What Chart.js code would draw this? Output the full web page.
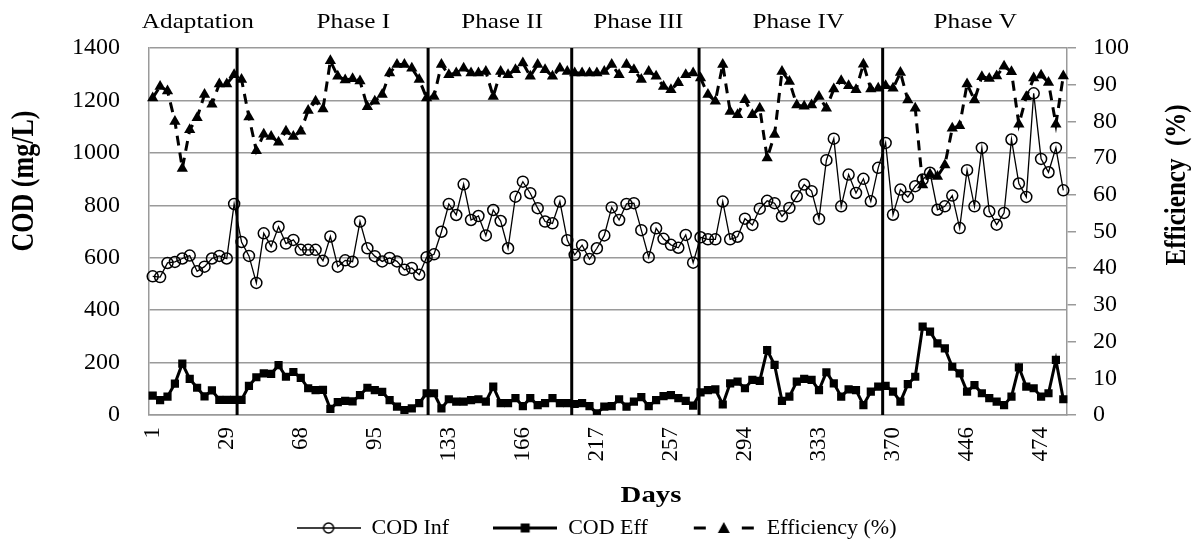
<!DOCTYPE html>
<html>
<head>
<meta charset="utf-8">
<script src="https://cdn.jsdelivr.net/npm/chart.js@4.4.1/dist/chart.umd.min.js"></script>
<style>
  html, body { margin: 0; padding: 0; background: #fff; }
  #wrap { position: relative; width: 1193px; height: 549px; }
</style>
</head>
<body>
<div id="wrap"><canvas id="mainChart"></canvas></div>
<script>
// ============================
// Data (one entry per sample)
// ============================
const tickDays = ["1", "29", "68", "95", "133", "166", "217", "257", "294", "333", "370", "446", "474"];

const codInf = [
  529, 526, 580, 584, 597, 608, 548, 566, 597, 607,
  597, 805, 660, 607, 504, 693, 643, 718, 654, 668,
  630, 630, 630, 588, 681, 566, 590, 585, 738, 636,
  606, 586, 599, 586, 554, 561, 535, 602, 613, 699,
  805, 763, 880, 744, 759, 685, 782, 740, 636, 833,
  890, 846, 789, 738, 731, 814, 667, 611, 648, 595,
  636, 685, 792, 744, 805, 808, 705, 602, 712, 672,
  649, 638, 687, 581, 678, 670, 670, 814, 670, 680,
  749, 725, 787, 817, 808, 758, 790, 834, 879, 854,
  748, 972, 1054, 796, 917, 847, 901, 815, 943, 1038,
  764, 860, 832, 873, 898, 924, 783, 796, 837, 713,
  934, 796, 1019, 777, 726, 771, 1051, 883, 832, 1227,
  977, 926, 1019, 857
];

const codEff = [
  74, 57, 70, 120, 196, 138, 104, 71, 94, 58,
  58, 58, 58, 111, 144, 159, 157, 190, 146, 164,
  142, 102, 95, 96, 23, 49, 54, 52, 76, 104,
  95, 88, 57, 32, 19, 25, 45, 83, 83, 25,
  60, 51, 51, 57, 60, 51, 108, 45, 45, 64,
  34, 64, 38, 45, 64, 45, 45, 42, 45, 34,
  6, 32, 34, 60, 32, 51, 68, 34, 57, 72,
  76, 64, 54, 36, 86, 95, 98, 40, 121, 127,
  102, 134, 130, 248, 191, 54, 70, 127, 138, 134,
  95, 163, 121, 70, 98, 95, 38, 89, 108, 111,
  89, 51, 118, 146, 337, 318, 273, 254, 184, 159,
  89, 114, 83, 64, 51, 38, 70, 182, 108, 102,
  70, 83, 210, 60
];

const efficiency = [
  86.4, 89.5, 88.3, 80, 67.2, 77.7, 81, 87.3, 84.7, 90.2,
  90.2, 92.7, 91.4, 81.2, 72, 76.5, 75.9, 74.3, 77.3, 75.9,
  77.3, 83, 85.5, 83.4, 96.5, 92.3, 91.3, 91.6, 91, 84,
  85.5, 87.3, 93.2, 95.5, 95.5, 94.5, 91.4, 86.4, 86.8, 95.5,
  92.7, 93.2, 94.5, 93.2, 93.2, 93.6, 86.8, 93.6, 92.7, 94.1,
  95.9, 92.3, 95.5, 94.1, 92.3, 94.5, 93.6, 93.2, 93.2, 93.2,
  93.2, 93.6, 95.5, 92.7, 95.5, 94.1, 91.4, 93.6, 92.3, 89.5,
  88.6, 90.5, 92.7, 93.2, 91.8, 87.3, 85.5, 95.5, 82.7, 81.8,
  85.9, 81.8, 83.6, 70, 76.4, 93.6, 90.9, 84.5, 84.1, 84.5,
  86.8, 83.6, 88.8, 91.1, 89.7, 88.6, 95.6, 88.8, 89, 89.7,
  89, 93.3, 85.8, 83.6, 62.7, 65.6, 65, 68.1, 78.1, 78.8,
  90.2, 85.8, 92.2, 91.7, 92.4, 95, 93.5, 79.2, 86.7, 91.8,
  92.6, 90.6, 79.2, 92.4
];

// phases, in sample-index units
const phaseNames = ["Adaptation", "Phase I", "Phase II", "Phase III", "Phase IV", "Phase V"];
const phaseBounds = [11.4, 37.2, 56.6, 73.8, 98.6];
const phaseLabelAt = [6.1, 27.1, 47.2, 65.6, 87.2, 111.1];

// day printed on every 10th sample
const labels = codInf.map((v, i) => (i % 10 === 0 ? tickDays[i / 10] : ""));

const FONT = "'Liberation Serif', 'Times New Roman', serif";
const GRID = "#9a9a9a";

// ============================
// Legend icons (line + marker)
// ============================
function legendIcon(kind) {
  const c = document.createElement("canvas");
  c.width = 64;
  c.height = 16;
  const g = c.getContext("2d");
  const x0 = 0, x1 = 64, cx = 32, cy = 8;
  g.strokeStyle = "#000";
  g.fillStyle = "#000";

  if (kind === "inf") {
    g.lineWidth = 1.4;
    g.beginPath(); g.moveTo(x0, cy); g.lineTo(x1, cy); g.stroke();
    g.lineWidth = 1.5;
    g.beginPath(); g.arc(cx, cy, 5, 0, Math.PI * 2); g.stroke();
  } else if (kind === "eff") {
    g.lineWidth = 3;
    g.beginPath(); g.moveTo(x0, cy); g.lineTo(x1, cy); g.stroke();
    g.fillRect(cx - 4.5, cy - 4.5, 9, 9);
  } else {
    g.lineWidth = 3;
    g.beginPath(); g.moveTo(x0 + 2, cy); g.lineTo(x0 + 14, cy); g.stroke();
    g.beginPath(); g.moveTo(x1 - 14, cy); g.lineTo(x1 - 2, cy); g.stroke();
    g.beginPath();
    g.moveTo(cx, cy - 6); g.lineTo(cx + 6, cy + 5); g.lineTo(cx - 6, cy + 5);
    g.closePath(); g.fill();
  }
  return c;
}
const legendIcons = [legendIcon("inf"), legendIcon("eff"), legendIcon("pct")];

// ============================
// Phase lines + free texts
// ============================
function stretchedText(ctx, text, x, y, rotate) {
  ctx.save();
  ctx.translate(x, y);
  ctx.scale(1.2, 1);
  if (rotate) ctx.rotate(rotate);
  ctx.fillText(text, 0, 0);
  ctx.restore();
}

const phasePlugin = {
  id: "phases",
  afterDatasetsDraw(chart) {
    const { ctx, chartArea, scales } = chart;
    const xs = scales.x;

    ctx.save();
    ctx.strokeStyle = "#000";
    ctx.lineWidth = 3;
    phaseBounds.forEach(b => {
      const px = xs.getPixelForValue(b);
      ctx.beginPath();
      ctx.moveTo(px, chartArea.top);
      ctx.lineTo(px, chartArea.bottom);
      ctx.stroke();
    });

    ctx.fillStyle = "#000";
    ctx.textAlign = "center";
    ctx.textBaseline = "middle";

    ctx.font = "21px " + FONT;
    phaseNames.forEach((name, k) => {
      stretchedText(ctx, name, xs.getPixelForValue(phaseLabelAt[k]), 22);
    });

    // axis titles
    ctx.font = "bold 24px " + FONT;
    stretchedText(ctx, "Days", 651, 496);
    ctx.font = "bold 26px " + FONT;
    stretchedText(ctx, "COD (mg/L)", 25, 181, -Math.PI / 2);
    ctx.font = "bold 25px " + FONT;
    stretchedText(ctx, "Efficiency  (%)", 1177, 185, -Math.PI / 2);
    ctx.restore();
  }
};

// ============================
// Chart
// ============================
Chart.defaults.font.family = FONT;
Chart.defaults.color = "#000";

const ctx = document.getElementById("mainChart").getContext("2d");

new Chart(ctx, {
  type: "line",
  data: {
    labels,
    datasets: [
      {
        label: "COD Inf",
        data: codInf,
        yAxisID: "y",
        borderColor: "#000",
        borderWidth: 1.3,
        pointStyle: "circle",
        pointRadius: 5.5,
        pointBorderWidth: 1.5,
        pointBorderColor: "#000",
        pointBackgroundColor: "rgba(0,0,0,0)",
        fill: false,
        tension: 0
      },
      {
        label: "COD Eff",
        data: codEff,
        yAxisID: "y",
        borderColor: "#000",
        borderWidth: 3,
        pointStyle: "rect",
        pointRadius: 5.8,
        pointBorderWidth: 0,
        pointBackgroundColor: "#000",
        fill: false,
        tension: 0
      },
      {
        label: "Efficiency (%)",
        data: efficiency,
        yAxisID: "y1",
        borderColor: "#000",
        borderWidth: 3,
        borderDash: [10, 7],
        pointStyle: "triangle",
        pointRadius: 6.5,
        pointBorderWidth: 0,
        pointBackgroundColor: "#000",
        fill: false,
        tension: 0
      }
    ]
  },
  options: {
    responsive: true,
    maintainAspectRatio: false,
    animation: false,
    layout: { padding: { top: 48, left: 0, right: 0, bottom: 0 } },
    plugins: {
      tooltip: { enabled: false },
      legend: {
        position: "bottom",
        labels: {
          usePointStyle: true,
          pointStyleWidth: 64,
          padding: 44,
          font: { size: 22, family: FONT },
          color: "#000",
          generateLabels(chart) {
            const items = Chart.defaults.plugins.legend.labels.generateLabels(chart);
            items.forEach((it, k) => { it.pointStyle = legendIcons[k]; });
            return items;
          }
        }
      }
    },
    scales: {
      x: {
        type: "category",
        offset: true,
        grid: { display: false, drawTicks: false },
        border: { display: true, color: GRID, width: 1.5 },
        ticks: {
          autoSkip: false,
          minRotation: 90,
          maxRotation: 90,
          padding: 12,
          font: { size: 23, family: FONT },
          color: "#000"
        },
        afterFit(scale) { scale.height = 58; }
      },
      y: {
        position: "left",
        min: 0,
        max: 1400,
        ticks: {
          stepSize: 200,
          padding: 29,
          font: { size: 24, family: FONT },
          color: "#000",
          callback: v => String(v)
        },
        grid: { color: GRID, lineWidth: 1.5, drawTicks: false },
        border: { display: true, color: GRID, width: 1.5 },
        afterFit(scale) { scale.width = 149; }
      },
      y1: {
        position: "right",
        min: 0,
        max: 100,
        ticks: {
          stepSize: 10,
          padding: 17,
          font: { size: 24, family: FONT },
          color: "#000",
          callback: v => String(v)
        },
        grid: { drawOnChartArea: false, color: GRID, lineWidth: 1.5, tickLength: 9 },
        border: { display: true, color: GRID, width: 1.5 },
        afterFit(scale) { scale.width = 126; }
      }
    }
  },
  plugins: [phasePlugin]
});
</script>
</body>
</html>
